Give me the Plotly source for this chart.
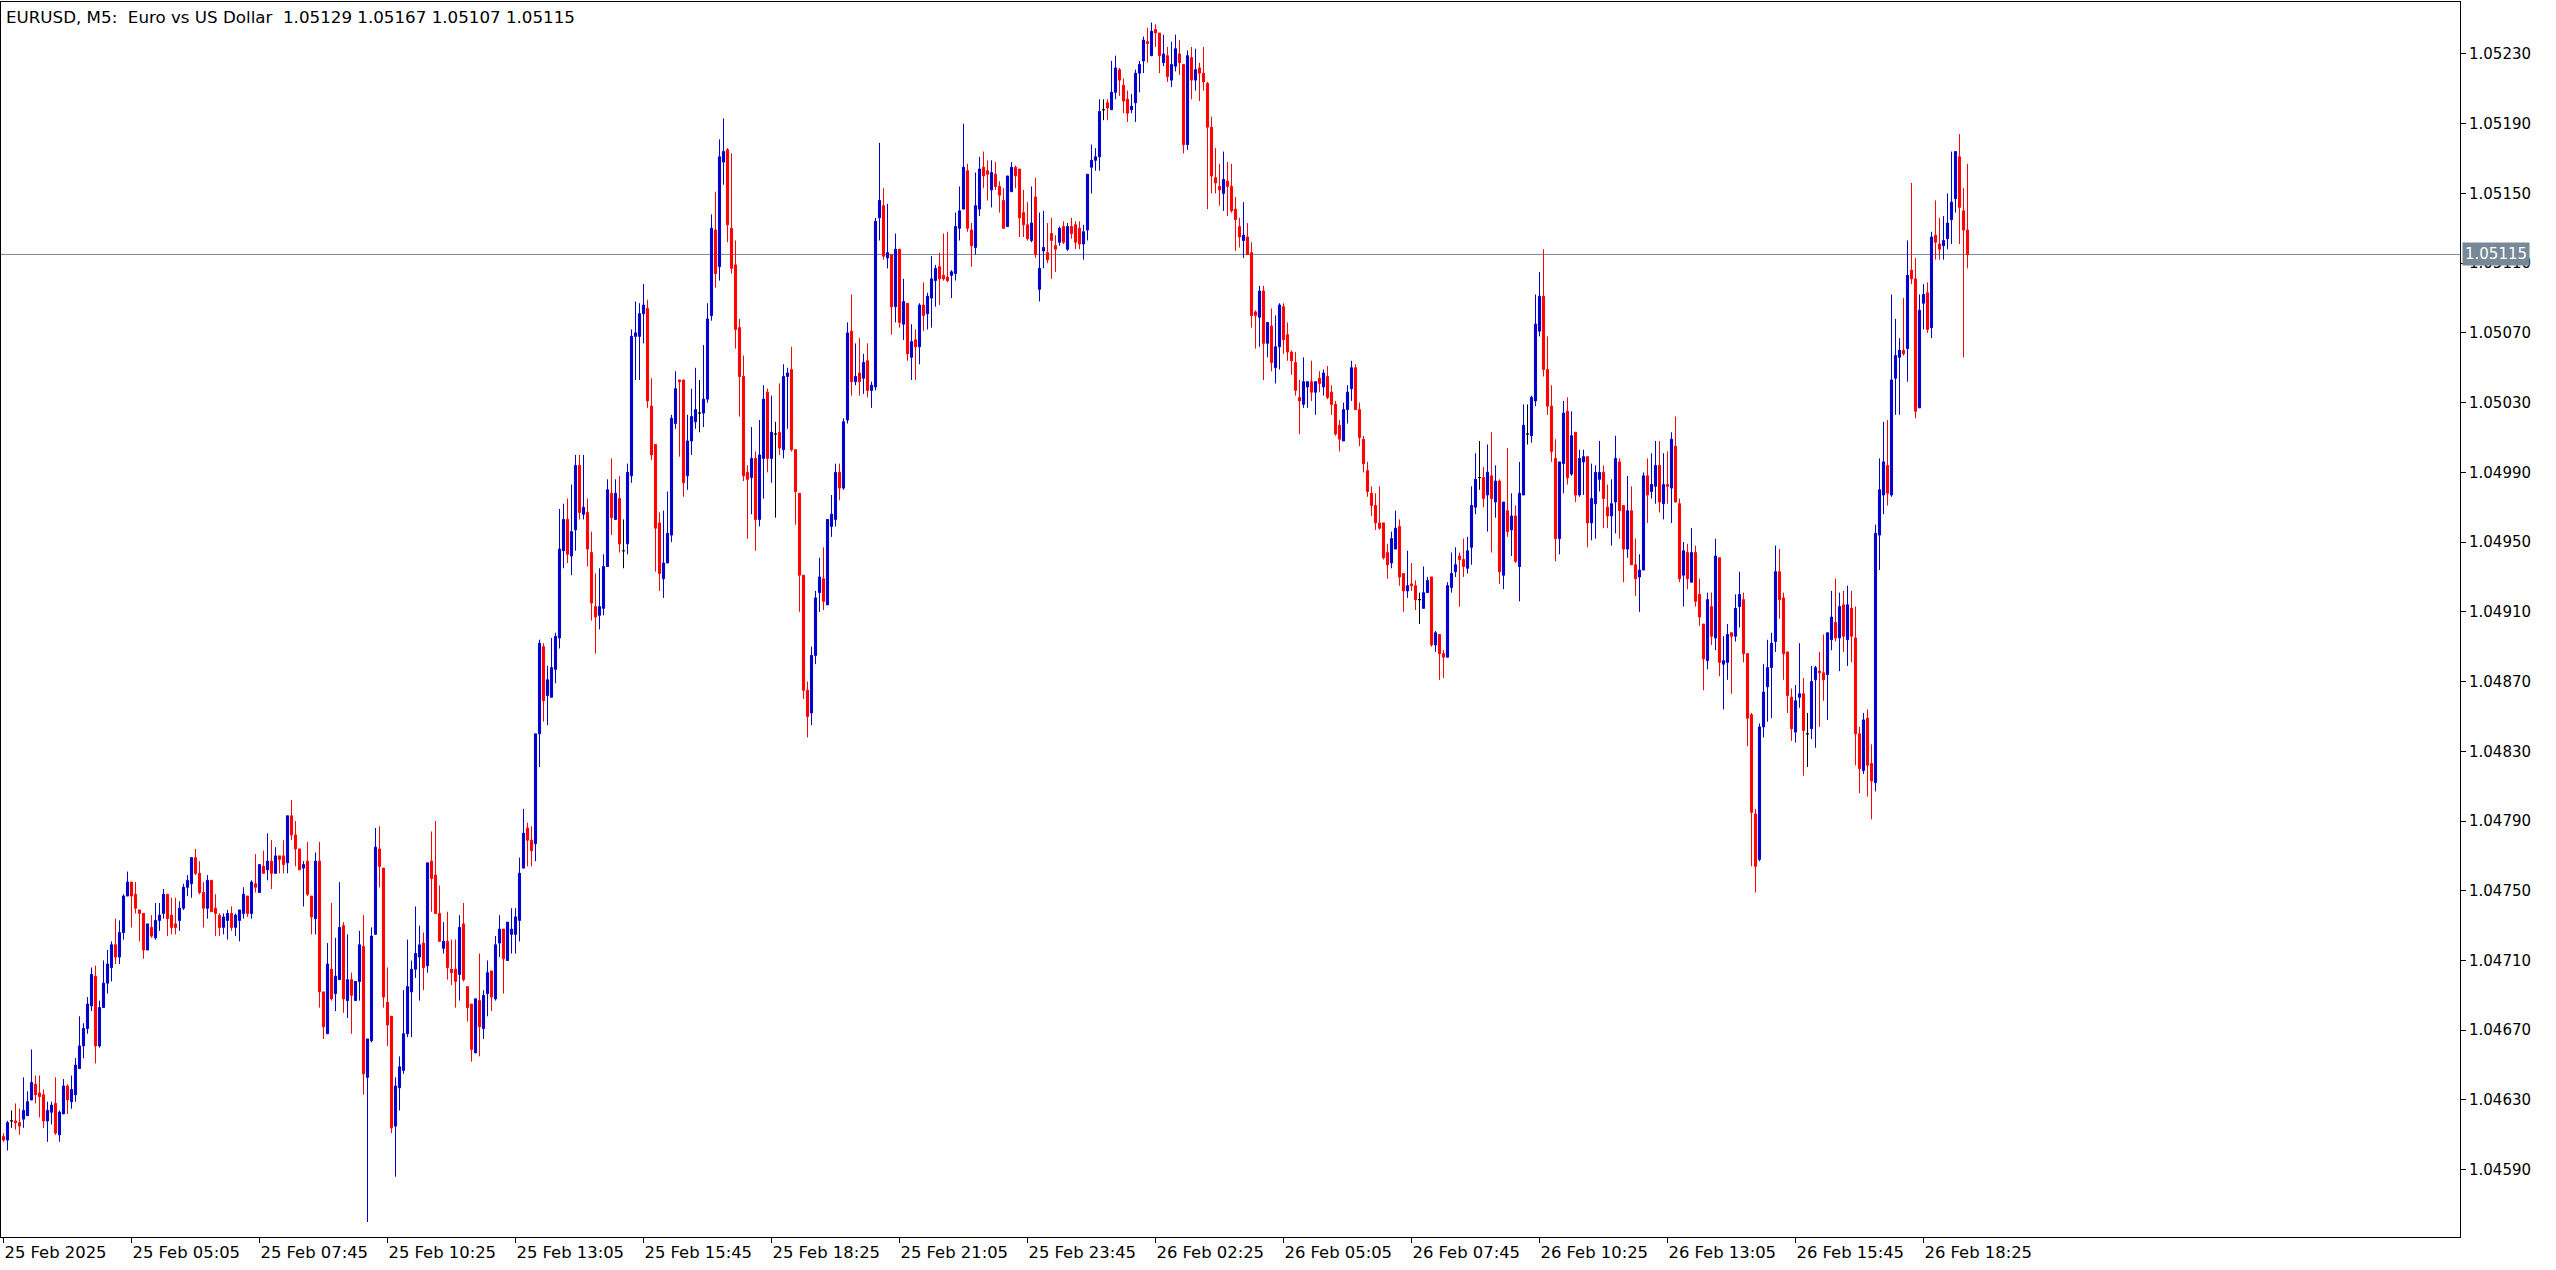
import pandas as pd
import plotly.graph_objects as go

# ---------------- data (EURUSD M5) ----------------
START_TIME = "2025-02-25 02:25"

open_ = [
    1.04609, 1.04607, 1.04618, 1.04618, 1.04617, 1.04619, 1.04621, 1.04630, 1.04639, 1.04634,
    1.04633, 1.04618, 1.04623, 1.04628, 1.04610, 1.04622, 1.04638, 1.04629, 1.04633, 1.04648,
    1.04661, 1.04671, 1.04684, 1.04701, 1.04661, 1.04683, 1.04697, 1.04706, 1.04719, 1.04712,
    1.04726, 1.04747, 1.04755, 1.04748, 1.04739, 1.04737, 1.04716, 1.04729, 1.04723, 1.04733,
    1.04737, 1.04748, 1.04736, 1.04731, 1.04733, 1.04740, 1.04752, 1.04754, 1.04769, 1.04760,
    1.04749, 1.04740, 1.04756, 1.04740, 1.04736, 1.04729, 1.04733, 1.04737, 1.04729, 1.04733,
    1.04737, 1.04747, 1.04737, 1.04754, 1.04749, 1.04764, 1.04762, 1.04767, 1.04760, 1.04770,
    1.04770, 1.04766, 1.04793, 1.04782, 1.04774, 1.04763, 1.04767, 1.04747, 1.04734, 1.04767,
    1.04692, 1.04668, 1.04705, 1.04691, 1.04699, 1.04730, 1.04687, 1.04699, 1.04687, 1.04698,
    1.04718, 1.04643, 1.04664, 1.04725, 1.04774, 1.04763, 1.04686, 1.04678, 1.04615, 1.04637,
    1.04647, 1.04668, 1.04692, 1.04705, 1.04712, 1.04720, 1.04707, 1.04767, 1.04759, 1.04737,
    1.04717, 1.04721, 1.04705, 1.04705, 1.04702, 1.04731, 1.04695, 1.04685, 1.04657, 1.04687,
    1.04671, 1.04691, 1.04704, 1.04688, 1.04720, 1.04728, 1.04710, 1.04725, 1.04725, 1.04733,
    1.04763, 1.04786, 1.04779, 1.04777, 1.04840, 1.04890, 1.04862, 1.04861, 1.04877, 1.04895,
    1.04945, 1.04963, 1.04942, 1.04957, 1.04994, 1.04966, 1.04967, 1.04944, 1.04913, 1.04908,
    1.04912, 1.04936, 1.04978, 1.04963, 1.04975, 1.04945, 1.04949, 1.04988, 1.05068, 1.05068,
    1.05081, 1.05084, 1.05028, 1.05006, 1.04961, 1.04929, 1.04938, 1.04954, 1.05018, 1.05043,
    1.05043, 1.04988, 1.05008, 1.05019, 1.05024, 1.05024, 1.05032, 1.05080, 1.05129, 1.05108,
    1.05168, 1.05175, 1.05130, 1.05109, 1.05073, 1.05045, 1.04990, 1.04987, 1.04998, 1.04963,
    1.04998, 1.05036, 1.04998, 1.05012, 1.05013, 1.05003, 1.05045, 1.05049, 1.05003, 1.04978,
    1.04931, 1.04865, 1.04852, 1.04885, 1.04921, 1.04929, 1.04914, 1.04959, 1.04963, 1.04990,
    1.04981, 1.05020, 1.05071, 1.05042, 1.05047, 1.05044, 1.05054, 1.05037, 1.05039, 1.05136,
    1.05143, 1.05113, 1.05115, 1.05085, 1.05118, 1.05075, 1.05087, 1.05056, 1.05066, 1.05062,
    1.05086, 1.05081, 1.05090, 1.05100, 1.05108, 1.05103, 1.05102, 1.05103, 1.05104, 1.05130,
    1.05141, 1.05163, 1.05129, 1.05119, 1.05141, 1.05165, 1.05163, 1.05152, 1.05161, 1.05154,
    1.05146, 1.05131, 1.05151, 1.05165, 1.05164, 1.05139, 1.05132, 1.05123, 1.05148, 1.05095,
    1.05117, 1.05116, 1.05127, 1.05120, 1.05122, 1.05131, 1.05118, 1.05131, 1.05132, 1.05130,
    1.05121, 1.05129, 1.05165, 1.05169, 1.05171, 1.05198, 1.05202, 1.05198, 1.05208, 1.05221,
    1.05212, 1.05204, 1.05198, 1.05202, 1.05219, 1.05226, 1.05237, 1.05229, 1.05244, 1.05242,
    1.05225, 1.05229, 1.05215, 1.05223, 1.05230, 1.05224, 1.05178, 1.05228, 1.05215, 1.05222,
    1.05219, 1.05213, 1.05188, 1.05159, 1.05154, 1.05150, 1.05157, 1.05154, 1.05141, 1.05131,
    1.05123, 1.05125, 1.05116, 1.05082, 1.05079, 1.05094, 1.05064, 1.05074, 1.05050, 1.05062,
    1.05085, 1.05069, 1.05059, 1.05053, 1.05033, 1.05029, 1.05039, 1.05042, 1.05036, 1.05044,
    1.05039, 1.05045, 1.05036, 1.05029, 1.05017, 1.05008, 1.05026, 1.05038, 1.05050, 1.05026,
    1.05009, 1.04991, 1.04978, 1.04971, 1.04961, 1.04961, 1.04944, 1.04938, 1.04946, 1.04959,
    1.04932, 1.04922, 1.04926, 1.04925, 1.04917, 1.04912, 1.04921, 1.04930, 1.04891, 1.04897,
    1.04886, 1.04884, 1.04924, 1.04933, 1.04942, 1.04940, 1.04935, 1.04947, 1.04970, 1.04987,
    1.04987, 1.04977, 1.04988, 1.04973, 1.04985, 1.04931, 1.04968, 1.04957, 1.04965, 1.04936,
    1.04977, 1.05012, 1.05011, 1.05031, 1.05071, 1.05091, 1.05049, 1.05028, 1.04998, 1.04952,
    1.04995, 1.05025, 1.04989, 1.05013, 1.04977, 1.04996, 1.04999, 1.04961, 1.04972, 1.04986,
    1.04990, 1.04970, 1.04965, 1.04973, 1.04996, 1.04971, 1.04946, 1.04968, 1.04937, 1.04930,
    1.04934, 1.04988, 1.04979, 1.04982, 1.04994, 1.04972, 1.04983, 1.04981, 1.05005, 1.04972,
    1.04931, 1.04944, 1.04927, 1.04944, 1.04920, 1.04903, 1.04882, 1.04913, 1.04895, 1.04941,
    1.04880, 1.04881, 1.04898, 1.04896, 1.04913, 1.04917, 1.04886, 1.04851, 1.04794, 1.04768,
    1.04844, 1.04867, 1.04878, 1.04893, 1.04933, 1.04918, 1.04887, 1.04861, 1.04841, 1.04861,
    1.04863, 1.04840, 1.04843, 1.04871, 1.04876, 1.04875, 1.04874, 1.04894, 1.04904, 1.04895,
    1.04914, 1.04894, 1.04912, 1.04895, 1.04840, 1.04819, 1.04849, 1.04823, 1.04812, 1.04954,
    1.04977, 1.04994, 1.04977, 1.05044, 1.05056, 1.05060, 1.05061, 1.05106, 1.05101, 1.05027,
    1.05087, 1.05093, 1.05073, 1.05126, 1.05121, 1.05120, 1.05124, 1.05135, 1.05147, 1.05171,
    1.05140, 1.05129,
]

high = [
    1.04611, 1.04618, 1.04624, 1.04628, 1.04625, 1.04643, 1.04635, 1.04659, 1.04644, 1.04644,
    1.04636, 1.04629, 1.04629, 1.04643, 1.04624, 1.04642, 1.04639, 1.04644, 1.04654, 1.04678,
    1.04674, 1.04689, 1.04706, 1.04707, 1.04687, 1.04710, 1.04716, 1.04721, 1.04734, 1.04733,
    1.04748, 1.04761, 1.04755, 1.04755, 1.04739, 1.04737, 1.04731, 1.04736, 1.04743, 1.04743,
    1.04751, 1.04748, 1.04746, 1.04746, 1.04744, 1.04754, 1.04759, 1.04769, 1.04774, 1.04767,
    1.04755, 1.04759, 1.04756, 1.04748, 1.04737, 1.04737, 1.04739, 1.04741, 1.04737, 1.04739,
    1.04752, 1.04747, 1.04756, 1.04771, 1.04765, 1.04773, 1.04783, 1.04779, 1.04775, 1.04770,
    1.04779, 1.04793, 1.04802, 1.04790, 1.04774, 1.04767, 1.04778, 1.04747, 1.04772, 1.04778,
    1.04692, 1.04720, 1.04743, 1.04723, 1.04755, 1.04732, 1.04725, 1.04703, 1.04698, 1.04727,
    1.04736, 1.04665, 1.04729, 1.04786, 1.04787, 1.04763, 1.04706, 1.04678, 1.04643, 1.04655,
    1.04693, 1.04722, 1.04710, 1.04741, 1.04730, 1.04726, 1.04766, 1.04784, 1.04790, 1.04753,
    1.04732, 1.04738, 1.04722, 1.04722, 1.04736, 1.04743, 1.04695, 1.04685, 1.04688, 1.04714,
    1.04693, 1.04710, 1.04704, 1.04724, 1.04736, 1.04728, 1.04732, 1.04740, 1.04740, 1.04769,
    1.04797, 1.04789, 1.04787, 1.04840, 1.04894, 1.04892, 1.04879, 1.04895, 1.04898, 1.04969,
    1.04972, 1.04975, 1.04983, 1.05000, 1.05000, 1.05000, 1.04975, 1.04956, 1.04932, 1.04935,
    1.04943, 1.04986, 1.04998, 1.04986, 1.04988, 1.04963, 1.04995, 1.05072, 1.05088, 1.05087,
    1.05098, 1.05089, 1.05044, 1.05006, 1.04967, 1.04968, 1.04979, 1.05023, 1.05048, 1.05043,
    1.05043, 1.05023, 1.05038, 1.05050, 1.05043, 1.05063, 1.05087, 1.05138, 1.05151, 1.05181,
    1.05193, 1.05176, 1.05173, 1.05123, 1.05078, 1.05057, 1.04994, 1.05016, 1.05002, 1.05020,
    1.05040, 1.05038, 1.05034, 1.05019, 1.05041, 1.05052, 1.05050, 1.05062, 1.05003, 1.04978,
    1.04931, 1.04870, 1.04890, 1.04922, 1.04941, 1.04947, 1.04963, 1.04977, 1.04995, 1.04995,
    1.05021, 1.05076, 1.05092, 1.05064, 1.05067, 1.05058, 1.05064, 1.05042, 1.05136, 1.05179,
    1.05153, 1.05144, 1.05115, 1.05127, 1.05118, 1.05101, 1.05087, 1.05075, 1.05072, 1.05087,
    1.05099, 1.05093, 1.05114, 1.05109, 1.05116, 1.05127, 1.05128, 1.05106, 1.05139, 1.05154,
    1.05190, 1.05167, 1.05133, 1.05162, 1.05171, 1.05174, 1.05169, 1.05169, 1.05168, 1.05157,
    1.05153, 1.05160, 1.05168, 1.05166, 1.05164, 1.05152, 1.05145, 1.05154, 1.05159, 1.05139,
    1.05140, 1.05133, 1.05136, 1.05126, 1.05131, 1.05134, 1.05133, 1.05136, 1.05134, 1.05134,
    1.05132, 1.05161, 1.05178, 1.05176, 1.05204, 1.05204, 1.05204, 1.05226, 1.05229, 1.05222,
    1.05216, 1.05209, 1.05207, 1.05221, 1.05226, 1.05240, 1.05245, 1.05248, 1.05247, 1.05242,
    1.05241, 1.05234, 1.05237, 1.05241, 1.05238, 1.05224, 1.05232, 1.05234, 1.05233, 1.05225,
    1.05234, 1.05214, 1.05194, 1.05176, 1.05167, 1.05174, 1.05168, 1.05167, 1.05148, 1.05136,
    1.05145, 1.05133, 1.05122, 1.05083, 1.05097, 1.05097, 1.05076, 1.05084, 1.05080, 1.05087,
    1.05087, 1.05076, 1.05060, 1.05059, 1.05043, 1.05056, 1.05042, 1.05054, 1.05042, 1.05048,
    1.05049, 1.05051, 1.05040, 1.05031, 1.05020, 1.05030, 1.05040, 1.05054, 1.05052, 1.05030,
    1.05011, 1.04996, 1.04982, 1.04978, 1.04982, 1.04961, 1.04949, 1.04956, 1.04968, 1.04963,
    1.04932, 1.04945, 1.04938, 1.04928, 1.04921, 1.04936, 1.04930, 1.04930, 1.04899, 1.04897,
    1.04888, 1.04927, 1.04944, 1.04947, 1.04944, 1.04952, 1.04953, 1.04982, 1.05001, 1.05008,
    1.04993, 1.05006, 1.05013, 1.04994, 1.04986, 1.04973, 1.05004, 1.04978, 1.04971, 1.04996,
    1.05029, 1.05029, 1.05034, 1.05092, 1.05105, 1.05118, 1.05068, 1.05040, 1.05009, 1.04996,
    1.05031, 1.05033, 1.05025, 1.05013, 1.05003, 1.05003, 1.04999, 1.04995, 1.04994, 1.05008,
    1.04994, 1.04983, 1.04986, 1.05011, 1.04998, 1.04971, 1.04988, 1.04982, 1.04952, 1.04943,
    1.04990, 1.04998, 1.05001, 1.05008, 1.05008, 1.05001, 1.05002, 1.05013, 1.05022, 1.04975,
    1.04950, 1.04949, 1.04958, 1.04948, 1.04929, 1.04903, 1.04921, 1.04921, 1.04952, 1.04941,
    1.04896, 1.04903, 1.04898, 1.04920, 1.04933, 1.04921, 1.04886, 1.04852, 1.04797, 1.04846,
    1.04880, 1.04894, 1.04898, 1.04948, 1.04946, 1.04921, 1.04887, 1.04866, 1.04868, 1.04892,
    1.04872, 1.04852, 1.04879, 1.04879, 1.04887, 1.04897, 1.04898, 1.04922, 1.04929, 1.04921,
    1.04922, 1.04925, 1.04922, 1.04913, 1.04844, 1.04852, 1.04854, 1.04834, 1.04960, 1.04998,
    1.05019, 1.05020, 1.05092, 1.05078, 1.05067, 1.05090, 1.05123, 1.05156, 1.05113, 1.05092,
    1.05098, 1.05099, 1.05128, 1.05146, 1.05136, 1.05137, 1.05150, 1.05174, 1.05174, 1.05184,
    1.05153, 1.05167,
]

low = [
    1.04606, 1.04601, 1.04614, 1.04613, 1.04610, 1.04614, 1.04621, 1.04630, 1.04628, 1.04620,
    1.04614, 1.04606, 1.04616, 1.04610, 1.04606, 1.04622, 1.04622, 1.04625, 1.04629, 1.04648,
    1.04654, 1.04668, 1.04681, 1.04651, 1.04660, 1.04683, 1.04691, 1.04698, 1.04708, 1.04708,
    1.04722, 1.04747, 1.04729, 1.04737, 1.04721, 1.04711, 1.04716, 1.04723, 1.04722, 1.04727,
    1.04734, 1.04724, 1.04725, 1.04725, 1.04727, 1.04739, 1.04747, 1.04746, 1.04759, 1.04748,
    1.04729, 1.04734, 1.04738, 1.04724, 1.04724, 1.04725, 1.04722, 1.04727, 1.04724, 1.04721,
    1.04734, 1.04735, 1.04734, 1.04749, 1.04749, 1.04760, 1.04756, 1.04751, 1.04760, 1.04760,
    1.04760, 1.04760, 1.04779, 1.04764, 1.04762, 1.04741, 1.04747, 1.04725, 1.04725, 1.04683,
    1.04665, 1.04668, 1.04687, 1.04681, 1.04699, 1.04680, 1.04677, 1.04668, 1.04687, 1.04687,
    1.04633, 1.04560, 1.04663, 1.04725, 1.04752, 1.04683, 1.04661, 1.04611, 1.04586, 1.04624,
    1.04645, 1.04666, 1.04666, 1.04700, 1.04687, 1.04693, 1.04703, 1.04738, 1.04737, 1.04721,
    1.04714, 1.04699, 1.04696, 1.04683, 1.04687, 1.04698, 1.04675, 1.04652, 1.04657, 1.04655,
    1.04665, 1.04678, 1.04681, 1.04687, 1.04712, 1.04691, 1.04710, 1.04714, 1.04714, 1.04721,
    1.04763, 1.04764, 1.04764, 1.04767, 1.04821, 1.04847, 1.04845, 1.04861, 1.04869, 1.04889,
    1.04935, 1.04938, 1.04931, 1.04945, 1.04963, 1.04963, 1.04936, 1.04905, 1.04886, 1.04900,
    1.04908, 1.04936, 1.04954, 1.04963, 1.04944, 1.04935, 1.04943, 1.04984, 1.05043, 1.05043,
    1.05064, 1.05027, 1.04997, 1.04933, 1.04922, 1.04918, 1.04938, 1.04950, 1.05015, 1.04999,
    1.04976, 1.04980, 1.05000, 1.05015, 1.05013, 1.05016, 1.05030, 1.05077, 1.05096, 1.05100,
    1.05155, 1.05122, 1.05104, 1.05061, 1.05022, 1.04985, 1.04952, 1.04966, 1.04945, 1.04959,
    1.04975, 1.04990, 1.04984, 1.04964, 1.05000, 1.04998, 1.05015, 1.05002, 1.04960, 1.04910,
    1.04860, 1.04838, 1.04845, 1.04880, 1.04910, 1.04911, 1.04914, 1.04953, 1.04959, 1.04974,
    1.04980, 1.05018, 1.05034, 1.05040, 1.05034, 1.05035, 1.05033, 1.05027, 1.05037, 1.05123,
    1.05112, 1.05107, 1.05069, 1.05076, 1.05073, 1.05066, 1.05054, 1.05043, 1.05043, 1.05052,
    1.05071, 1.05072, 1.05073, 1.05085, 1.05086, 1.05100, 1.05099, 1.05090, 1.05100, 1.05123,
    1.05141, 1.05128, 1.05108, 1.05115, 1.05137, 1.05153, 1.05146, 1.05142, 1.05152, 1.05139,
    1.05130, 1.05131, 1.05151, 1.05153, 1.05125, 1.05125, 1.05123, 1.05122, 1.05113, 1.05088,
    1.05107, 1.05110, 1.05101, 1.05105, 1.05120, 1.05121, 1.05117, 1.05124, 1.05118, 1.05118,
    1.05112, 1.05123, 1.05150, 1.05163, 1.05163, 1.05192, 1.05192, 1.05198, 1.05204, 1.05206,
    1.05196, 1.05191, 1.05196, 1.05191, 1.05208, 1.05219, 1.05225, 1.05229, 1.05234, 1.05219,
    1.05223, 1.05214, 1.05211, 1.05220, 1.05218, 1.05173, 1.05175, 1.05204, 1.05209, 1.05203,
    1.05209, 1.05141, 1.05150, 1.05150, 1.05143, 1.05140, 1.05137, 1.05139, 1.05117, 1.05119,
    1.05113, 1.05115, 1.05073, 1.05061, 1.05062, 1.05043, 1.05056, 1.05048, 1.05041, 1.05049,
    1.05058, 1.05054, 1.05046, 1.05034, 1.05012, 1.05027, 1.05027, 1.05031, 1.05023, 1.05036,
    1.05034, 1.05032, 1.05023, 1.05011, 1.05002, 1.05008, 1.05018, 1.05031, 1.05026, 1.05005,
    1.04990, 1.04976, 1.04965, 1.04957, 1.04957, 1.04940, 1.04929, 1.04935, 1.04946, 1.04925,
    1.04910, 1.04918, 1.04922, 1.04911, 1.04903, 1.04912, 1.04921, 1.04890, 1.04887, 1.04871,
    1.04872, 1.04884, 1.04921, 1.04930, 1.04913, 1.04930, 1.04932, 1.04937, 1.04966, 1.04980,
    1.04970, 1.04956, 1.04944, 1.04964, 1.04926, 1.04923, 1.04953, 1.04942, 1.04938, 1.04916,
    1.04977, 1.05006, 1.05007, 1.05028, 1.05068, 1.05045, 1.05023, 1.04996, 1.04939, 1.04943,
    1.04978, 1.04983, 1.04988, 1.04973, 1.04976, 1.04977, 1.04947, 1.04951, 1.04952, 1.04979,
    1.04958, 1.04958, 1.04948, 1.04955, 1.04952, 1.04927, 1.04941, 1.04937, 1.04919, 1.04910,
    1.04934, 1.04961, 1.04975, 1.04972, 1.04967, 1.04963, 1.04972, 1.04961, 1.04973, 1.04927,
    1.04913, 1.04923, 1.04927, 1.04913, 1.04902, 1.04865, 1.04877, 1.04891, 1.04888, 1.04873,
    1.04854, 1.04871, 1.04863, 1.04893, 1.04901, 1.04881, 1.04833, 1.04764, 1.04749, 1.04767,
    1.04838, 1.04847, 1.04849, 1.04887, 1.04906, 1.04871, 1.04852, 1.04836, 1.04835, 1.04855,
    1.04816, 1.04821, 1.04837, 1.04832, 1.04844, 1.04859, 1.04848, 1.04888, 1.04893, 1.04876,
    1.04887, 1.04879, 1.04881, 1.04822, 1.04806, 1.04817, 1.04804, 1.04791, 1.04807, 1.04934,
    1.04966, 1.04971, 1.04976, 1.05023, 1.05023, 1.05057, 1.05042, 1.05098, 1.05021, 1.05027,
    1.05072, 1.05070, 1.05067, 1.05112, 1.05112, 1.05112, 1.05118, 1.05121, 1.05139, 1.05121,
    1.05056, 1.05107,
]

close = [
    1.04607, 1.04617, 1.04618, 1.04617, 1.04615, 1.04624, 1.04629, 1.04640, 1.04633, 1.04632,
    1.04618, 1.04624, 1.04627, 1.04611, 1.04623, 1.04638, 1.04630, 1.04636, 1.04650, 1.04661,
    1.04671, 1.04685, 1.04702, 1.04661, 1.04683, 1.04697, 1.04708, 1.04719, 1.04712, 1.04726,
    1.04747, 1.04755, 1.04747, 1.04740, 1.04737, 1.04716, 1.04731, 1.04724, 1.04733, 1.04736,
    1.04748, 1.04734, 1.04729, 1.04729, 1.04740, 1.04752, 1.04756, 1.04769, 1.04760, 1.04749,
    1.04740, 1.04756, 1.04738, 1.04737, 1.04729, 1.04735, 1.04737, 1.04729, 1.04736, 1.04739,
    1.04748, 1.04737, 1.04755, 1.04752, 1.04765, 1.04760, 1.04767, 1.04760, 1.04770, 1.04768,
    1.04765, 1.04793, 1.04782, 1.04774, 1.04762, 1.04765, 1.04748, 1.04735, 1.04767, 1.04692,
    1.04672, 1.04708, 1.04688, 1.04701, 1.04729, 1.04688, 1.04699, 1.04690, 1.04698, 1.04719,
    1.04645, 1.04665, 1.04724, 1.04775, 1.04764, 1.04689, 1.04673, 1.04614, 1.04638, 1.04649,
    1.04668, 1.04695, 1.04705, 1.04714, 1.04719, 1.04706, 1.04766, 1.04757, 1.04737, 1.04721,
    1.04721, 1.04706, 1.04703, 1.04698, 1.04729, 1.04699, 1.04683, 1.04659, 1.04688, 1.04672,
    1.04690, 1.04703, 1.04689, 1.04719, 1.04728, 1.04711, 1.04732, 1.04728, 1.04735, 1.04760,
    1.04783, 1.04779, 1.04773, 1.04840, 1.04892, 1.04859, 1.04871, 1.04878, 1.04896, 1.04946,
    1.04963, 1.04943, 1.04956, 1.04994, 1.04967, 1.04970, 1.04946, 1.04915, 1.04907, 1.04913,
    1.04936, 1.04980, 1.04964, 1.04978, 1.04949, 1.04945, 1.04990, 1.05068, 1.05070, 1.05081,
    1.05086, 1.05031, 1.05000, 1.04958, 1.04932, 1.04938, 1.04955, 1.05021, 1.05038, 1.05042,
    1.04984, 1.05008, 1.05022, 1.05026, 1.05024, 1.05032, 1.05078, 1.05130, 1.05104, 1.05171,
    1.05174, 1.05132, 1.05107, 1.05072, 1.05045, 1.04988, 1.04986, 1.04998, 1.04963, 1.05000,
    1.05032, 1.04998, 1.05013, 1.05012, 1.05004, 1.05045, 1.05047, 1.05003, 1.04979, 1.04931,
    1.04865, 1.04850, 1.04885, 1.04918, 1.04930, 1.04916, 1.04963, 1.04966, 1.04990, 1.04981,
    1.05019, 1.05070, 1.05042, 1.05045, 1.05042, 1.05053, 1.05037, 1.05040, 1.05134, 1.05146,
    1.05114, 1.05116, 1.05085, 1.05118, 1.05076, 1.05088, 1.05058, 1.05065, 1.05062, 1.05086,
    1.05080, 1.05091, 1.05101, 1.05107, 1.05101, 1.05101, 1.05100, 1.05105, 1.05131, 1.05140,
    1.05165, 1.05130, 1.05120, 1.05143, 1.05164, 1.05160, 1.05161, 1.05162, 1.05154, 1.05149,
    1.05130, 1.05160, 1.05165, 1.05160, 1.05136, 1.05132, 1.05124, 1.05133, 1.05115, 1.05107,
    1.05119, 1.05112, 1.05123, 1.05118, 1.05130, 1.05122, 1.05131, 1.05127, 1.05122, 1.05121,
    1.05128, 1.05161, 1.05169, 1.05171, 1.05197, 1.05198, 1.05199, 1.05208, 1.05222, 1.05215,
    1.05203, 1.05196, 1.05200, 1.05219, 1.05224, 1.05238, 1.05236, 1.05243, 1.05242, 1.05229,
    1.05230, 1.05217, 1.05224, 1.05233, 1.05225, 1.05178, 1.05229, 1.05215, 1.05221, 1.05219,
    1.05214, 1.05188, 1.05160, 1.05156, 1.05152, 1.05158, 1.05154, 1.05140, 1.05135, 1.05125,
    1.05126, 1.05115, 1.05080, 1.05080, 1.05094, 1.05064, 1.05076, 1.05053, 1.05062, 1.05086,
    1.05066, 1.05059, 1.05054, 1.05037, 1.05031, 1.05042, 1.05042, 1.05036, 1.05042, 1.05041,
    1.05047, 1.05033, 1.05029, 1.05012, 1.05009, 1.05026, 1.05036, 1.05050, 1.05026, 1.05010,
    1.04995, 1.04979, 1.04971, 1.04961, 1.04958, 1.04941, 1.04937, 1.04952, 1.04958, 1.04930,
    1.04922, 1.04925, 1.04925, 1.04917, 1.04917, 1.04921, 1.04928, 1.04891, 1.04898, 1.04886,
    1.04884, 1.04925, 1.04932, 1.04937, 1.04940, 1.04936, 1.04945, 1.04971, 1.04986, 1.04987,
    1.04975, 1.04990, 1.04975, 1.04985, 1.04933, 1.04973, 1.04956, 1.04965, 1.04939, 1.04978,
    1.05017, 1.05012, 1.05033, 1.05075, 1.05091, 1.05049, 1.05028, 1.05002, 1.04952, 1.04996,
    1.05024, 1.04987, 1.05011, 1.04977, 1.04998, 1.04999, 1.04961, 1.04975, 1.04990, 1.04990,
    1.04975, 1.04965, 1.04972, 1.04998, 1.04968, 1.04946, 1.04968, 1.04937, 1.04929, 1.04934,
    1.04988, 1.04977, 1.04983, 1.04994, 1.04973, 1.04983, 1.04982, 1.05009, 1.04973, 1.04929,
    1.04945, 1.04929, 1.04944, 1.04916, 1.04907, 1.04883, 1.04917, 1.04896, 1.04942, 1.04881,
    1.04882, 1.04897, 1.04896, 1.04912, 1.04920, 1.04886, 1.04849, 1.04795, 1.04764, 1.04844,
    1.04864, 1.04878, 1.04892, 1.04933, 1.04917, 1.04886, 1.04862, 1.04843, 1.04859, 1.04863,
    1.04842, 1.04840, 1.04870, 1.04878, 1.04875, 1.04871, 1.04898, 1.04907, 1.04895, 1.04913,
    1.04896, 1.04914, 1.04896, 1.04840, 1.04820, 1.04848, 1.04822, 1.04813, 1.04955, 1.04980,
    1.04996, 1.04978, 1.05043, 1.05057, 1.05060, 1.05058, 1.05103, 1.05101, 1.05025, 1.05083,
    1.05092, 1.05072, 1.05125, 1.05122, 1.05118, 1.05123, 1.05133, 1.05145, 1.05174, 1.05142,
    1.05129, 1.05115,
]

X_TICK_BARS = [0, 32, 64, 96, 128, 160, 192, 224, 256, 288, 320, 352, 384, 416, 448, 480]
X_TICK_LABELS = [
    "25 Feb 2025", "25 Feb 05:05", "25 Feb 07:45", "25 Feb 10:25", "25 Feb 13:05",
    "25 Feb 15:45", "25 Feb 18:25", "25 Feb 21:05", "25 Feb 23:45", "26 Feb 02:25",
    "26 Feb 05:05", "26 Feb 07:45", "26 Feb 10:25", "26 Feb 13:05", "26 Feb 15:45",
    "26 Feb 18:25",
]
Y_TICKS = [1.04590, 1.04630, 1.04670, 1.04710, 1.04750, 1.04790, 1.04830, 1.04870,
           1.04910, 1.04950, 1.04990, 1.05030, 1.05070, 1.05110, 1.05150, 1.05190, 1.05230]
Y_LABELS = ["1.04590", "1.04630", "1.04670", "1.04710", "1.04750", "1.04790", "1.04830",
            "1.04870", "1.04910", "1.04950", "1.04990", "1.05030", "1.05070", "1.05110",
            "1.05150", "1.05190", "1.05230"]
Y_RANGE = [1.045514, 1.052598]

# ---------------- styling ----------------
BULL = "#0000CD"
BEAR = "#FF0000"
DOJI = "#000000"
PRICE_LINE = "#778899"
FONT = "DejaVu Sans"

W, H = 2556, 1270
ML, MR, MT, MB = 1, 96, 2, 33
PLOT_W = W - ML - MR
PX_PER_BAR = 4.0
FIRST_BAR_OFFSET_PX = 2.5   # centre of first candle, measured from the plot's left edge

times = pd.date_range(START_TIME, periods=len(close), freq="5min")
bar = pd.Timedelta(minutes=5)
x_start = times[0] - (FIRST_BAR_OFFSET_PX / PX_PER_BAR) * bar
x_end = x_start + (PLOT_W / PX_PER_BAR) * bar

up = [c > o for o, c in zip(open_, close)]
down = [c < o for o, c in zip(open_, close)]
flat = [c == o for o, c in zip(open_, close)]


def pick(mask, arr):
    return [v if m else None for v, m in zip(arr, mask)]


fig = go.Figure()
for mask, color in [(up, BULL), (down, BEAR), (flat, DOJI)]:
    fig.add_trace(go.Candlestick(
        x=times,
        open=pick(mask, open_), high=pick(mask, high),
        low=pick(mask, low), close=pick(mask, close),
        increasing=dict(line=dict(color=color, width=1), fillcolor=color),
        decreasing=dict(line=dict(color=color, width=1), fillcolor=color),
        whiskerwidth=0,
        hoverinfo="skip",
        showlegend=False,
    ))

last_close = close[-1]
fig.add_shape(type="line", xref="paper", x0=0, x1=1, yref="y", y0=last_close, y1=last_close,
              line=dict(color=PRICE_LINE, width=1), layer="below")

title_text = ("EURUSD,\u00a0M5:\u00a0\u00a0Euro vs US Dollar\u00a0\u00a0"
              f"{open_[-1]:.5f} {high[-1]:.5f} {low[-1]:.5f} {close[-1]:.5f}")
fig.add_annotation(text=title_text, xref="paper", yref="paper", x=0, y=1,
                   xanchor="left", yanchor="top", xshift=3, yshift=-3, showarrow=False,
                   font=dict(family=FONT, size=16.7, color="black"))
fig.add_annotation(text=f"{last_close:.5f}", xref="paper", yref="y", x=1, y=last_close,
                   xanchor="left", yanchor="middle", xshift=2, showarrow=False,
                   bgcolor=PRICE_LINE, borderpad=2,
                   font=dict(family=FONT, size=15, color="white"))

fig.update_layout(
    width=W, height=H,
    margin=dict(l=ML, r=MR, t=MT, b=MB, pad=0),
    paper_bgcolor="white", plot_bgcolor="white",
    font=dict(family=FONT, color="black"),
    showlegend=False,
    hovermode=False,
    boxgap=0.3, boxgroupgap=0.25,
    xaxis=dict(
        type="date", range=[x_start, x_end],
        rangeslider=dict(visible=False),
        tickvals=[times[i] for i in X_TICK_BARS], ticktext=X_TICK_LABELS,
        ticklabelposition="outside right",
        ticks="outside", ticklen=5, tickwidth=1, tickcolor="black",
        tickfont=dict(family=FONT, size=16.4, color="black"),
        showline=True, linecolor="black", linewidth=1, mirror=True,
        showgrid=False, zeroline=False, fixedrange=True,
    ),
    yaxis=dict(
        side="right", range=Y_RANGE,
        tickvals=Y_TICKS, ticktext=Y_LABELS,
        ticks="outside", ticklen=5, tickwidth=1, tickcolor="black",
        tickfont=dict(family=FONT, size=15, color="black"),
        showline=True, linecolor="black", linewidth=1, mirror=True,
        showgrid=False, zeroline=False, fixedrange=True,
    ),
)

fig.write_html(
    "out.html",
    config={"displayModeBar": False, "staticPlot": True},
    post_script="document.body.style.margin='0';document.body.style.overflow='hidden';",
)
